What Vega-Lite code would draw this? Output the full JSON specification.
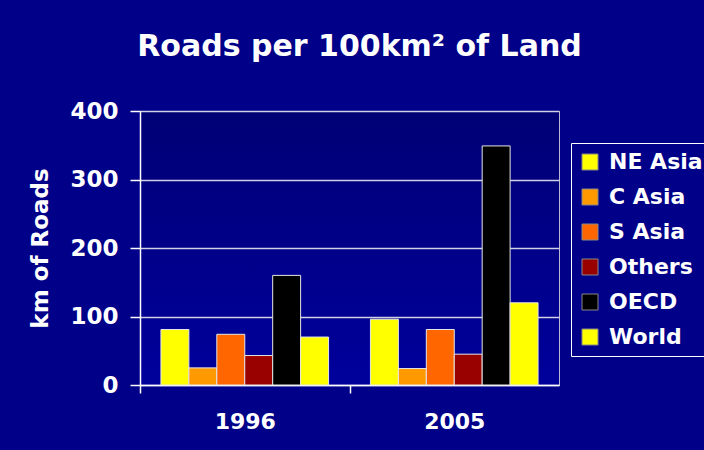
{
  "$schema": "https://vega.github.io/schema/vega-lite/v6.json",
  "width": 419,
  "height": 274,
  "autosize": "none",
  "padding": {"left": 140, "top": 111, "right": 145, "bottom": 65},
  "background": "#000088",
  "title": {
    "text": "Roads per 100km² of Land",
    "color": "white",
    "font": "DejaVu Sans",
    "fontSize": 30,
    "fontWeight": "bold",
    "anchor": "middle",
    "dx": 10,
    "baseline": "alphabetic",
    "offset": 14
  },
  "config": {
    "view": {
      "stroke": "#b8b8d0",
      "strokeWidth": 1,
      "fill": {
        "gradient": "linear",
        "x1": 0, "y1": 0, "x2": 0, "y2": 1,
        "stops": [
          {"offset": 0, "color": "#000075"},
          {"offset": 1, "color": "#00009c"}
        ]
      }
    },
    "axis": {
      "labelFont": "DejaVu Sans",
      "labelFontWeight": "bold",
      "labelFontSize": 22,
      "labelColor": "white",
      "titleFont": "DejaVu Sans",
      "titleFontWeight": "bold",
      "titleFontSize": 23,
      "titleColor": "white",
      "domainColor": "white",
      "tickColor": "white",
      "domainWidth": 1.5,
      "tickWidth": 1.5
    },
    "legend": {
      "labelFont": "DejaVu Sans",
      "labelFontWeight": "bold",
      "labelFontSize": 22,
      "labelColor": "white"
    }
  },
  "data": {
    "values": [
      {"year": "1996", "region": "NE Asia", "value": 81},
      {"year": "1996", "region": "C Asia", "value": 25},
      {"year": "1996", "region": "S Asia", "value": 74},
      {"year": "1996", "region": "Others", "value": 43},
      {"year": "1996", "region": "OECD", "value": 160},
      {"year": "1996", "region": "World", "value": 70},
      {"year": "2005", "region": "NE Asia", "value": 96},
      {"year": "2005", "region": "C Asia", "value": 24},
      {"year": "2005", "region": "S Asia", "value": 81},
      {"year": "2005", "region": "Others", "value": 45},
      {"year": "2005", "region": "OECD", "value": 349},
      {"year": "2005", "region": "World", "value": 120}
    ]
  },
  "mark": {"type": "bar", "stroke": "#e6e6e6", "strokeWidth": 1},
  "encoding": {
    "x": {
      "field": "year",
      "type": "nominal",
      "scale": {"paddingInner": 0.2, "paddingOuter": 0.1},
      "axis": {
        "title": null,
        "labelAngle": 0,
        "tickOffset": -104.75,
        "labelOffset": 104.75,
        "tickSize": 8,
        "labelPadding": 18,
        "labelBaseline": "top"
      }
    },
    "xOffset": {
      "field": "region",
      "type": "nominal",
      "sort": ["NE Asia", "C Asia", "S Asia", "Others", "OECD", "World"],
      "scale": {"paddingInner": 0, "paddingOuter": 0}
    },
    "y": {
      "field": "value",
      "type": "quantitative",
      "scale": {"domain": [0, 400], "nice": false},
      "axis": {
        "values": [0, 100, 200, 300, 400],
        "title": "km of Roads",
        "titlePadding": 17,
        "tickSize": 10,
        "labelPadding": 12,
        "labelFontSize": 23,
        "grid": true,
        "gridColor": "#d0d0e4",
        "gridWidth": 1.5,
        "gridOpacity": 1
      }
    },
    "color": {
      "field": "region",
      "type": "nominal",
      "sort": ["NE Asia", "C Asia", "S Asia", "Others", "OECD", "World"],
      "scale": {
        "domain": ["NE Asia", "C Asia", "S Asia", "Others", "OECD", "World"],
        "range": ["#ffff00", "#ff9900", "#ff6600", "#990000", "#000000", "#ffff00"]
      },
      "legend": {
        "title": null,
        "orient": "none",
        "legendX": 431,
        "legendY": 32,
        "strokeColor": "white",
        "padding": 8,
        "symbolType": "square",
        "symbolSize": 256,
        "symbolStrokeColor": "#888888",
        "symbolStrokeWidth": 1,
        "symbolOpacity": 1,
        "labelOffset": 8,
        "rowPadding": 13
      }
    }
  }
}
